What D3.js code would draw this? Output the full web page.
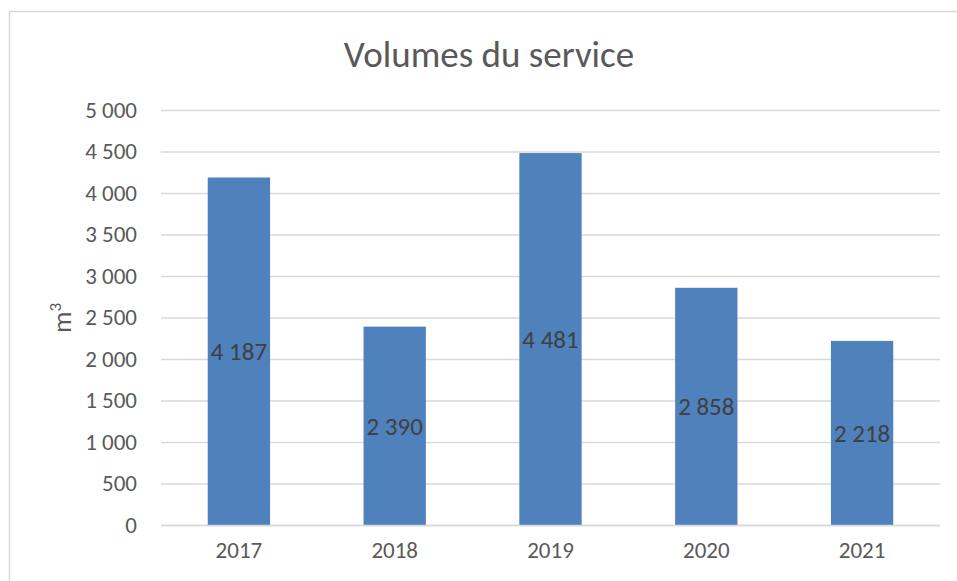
<!DOCTYPE html>
<html lang="fr">
<head>
    <meta charset="UTF-8">
    <title>Volumes du service</title>
    <script src="https://d3js.org/d3.v7.min.js"></script>
    <style>
        body {
            margin: 0;
            background: #fff;
            font-family: Carlito, "Liberation Sans", Arial, sans-serif;
        }
        svg { display: block; }
    </style>
</head>
<body>
    <div id="chart"></div>

    <script>
        // Data
        const years = ['2017', '2018', '2019', '2020', '2021'];
        const volumes = [4187, 2390, 4481, 2858, 2218];
        const yTicks = [0, 500, 1000, 1500, 2000, 2500, 3000, 3500, 4000, 4500, 5000];

        const width = 957, height = 581;
        const margin = { top: 110, right: 17, bottom: 56, left: 161 };
        const plotW = width - margin.left - margin.right,
              plotH = height - margin.top - margin.bottom;
        const font = 'Carlito, "Liberation Sans", Arial, sans-serif';

        const fmt = v => d3.format(',')(v).replace(/,/g, ' ');

        const svg = d3.select('#chart')
            .append('svg')
            .attr('width', width)
            .attr('height', height);

        // chart frame
        svg.append('rect')
            .attr('x', 9.5)
            .attr('y', 11.5)
            .attr('width', width)
            .attr('height', height)
            .attr('fill', '#fff')
            .attr('stroke', '#d9d9d9')
            .attr('stroke-width', 1.5);

        svg.append('text')
            .attr('x', 489)
            .attr('y', 67)
            .attr('text-anchor', 'middle')
            .attr('font-size', 37)
            .attr('fill', '#595959')
            .text('Volumes du service');

        const g = svg.append('g')
            .attr('transform', `translate(${margin.left},${margin.top})`);

        const x = d3.scaleBand()
            .domain(years)
            .range([0, plotW])
            .paddingInner(0.6)
            .paddingOuter(0.3);

        const y = d3.scaleLinear()
            .domain([0, 5000])
            .range([plotH, 0]);

        // gridlines
        const yAxis = g.append('g')
            .call(d3.axisLeft(y).tickValues(yTicks).tickSize(-plotW).tickFormat(fmt).tickPadding(24));
        yAxis.select('.domain').remove();
        yAxis.selectAll('line').attr('stroke', '#d9d9d9').attr('stroke-width', 1.5);
        yAxis.selectAll('text')
            .attr('fill', '#595959')
            .attr('font-size', 23)
            .attr('font-family', font);

        // bars
        g.selectAll('.bar')
            .data(volumes)
            .enter().append('rect')
            .attr('class', 'bar')
            .attr('x', (d, i) => x(years[i]))
            .attr('y', d => y(d))
            .attr('width', x.bandwidth())
            .attr('height', d => plotH - y(d))
            .attr('fill', '#4f81bd');

        // data labels
        g.selectAll('.lbl')
            .data(volumes)
            .enter().append('text')
            .attr('class', 'lbl')
            .attr('x', (d, i) => x(years[i]) + x.bandwidth() / 2)
            .attr('y', d => (y(d) + plotH) / 2)
            .attr('dy', '0.35em')
            .attr('text-anchor', 'middle')
            .attr('font-size', 25)
            .attr('fill', '#404040')
            .text(fmt);

        // x axis
        const xAxis = g.append('g')
            .attr('transform', `translate(0,${plotH})`)
            .call(d3.axisBottom(x).tickSize(0).tickPadding(17));
        xAxis.select('.domain').attr('stroke', '#d9d9d9').attr('stroke-width', 1.5);
        xAxis.selectAll('text')
            .attr('fill', '#595959')
            .attr('font-size', 23)
            .attr('font-family', font);

        // y axis title
        const yt = svg.append('text')
            .attr('transform', 'translate(71,318) rotate(-90)')
            .attr('text-anchor', 'middle')
            .attr('font-size', 27)
            .attr('fill', '#595959');
        yt.append('tspan').text('m');
        yt.append('tspan').attr('baseline-shift', 'super').attr('font-size', 17).text('3');
    </script>
</body>
</html>
